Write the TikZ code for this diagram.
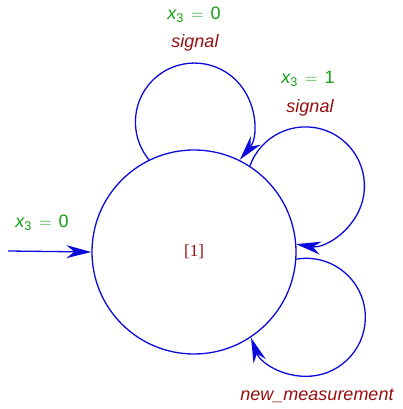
\documentclass[tikz,border=0pt]{standalone}
\usepackage{fontspec}
\setmainfont{Liberation Serif}
\setsansfont{Liberation Sans}
\usetikzlibrary{arrows.meta}
\definecolor{edgeblue}{RGB}{10,10,220}
\definecolor{lblgreen}{RGB}{20,160,20}
\definecolor{lblred}{RGB}{150,15,15}
\newcommand{\xguard}[1]{{\itshape x}\textsubscript{3}\hspace{0.4em}$=$\hspace{0.4em}#1}
\begin{document}
\begin{tikzpicture}[x=1pt,y=1pt,
  edge/.style={draw=edgeblue,line width=1.3pt,-{Stealth[length=25pt,width=13pt,inset=8pt]}},
  state/.style={circle,draw=edgeblue,line width=1.3pt,minimum size=204pt,inner sep=0pt,
    font=\fontsize{17}{19}\selectfont\rmfamily,text=lblred},
  guard/.style={font=\fontsize{18}{20}\selectfont\sffamily,text=lblgreen},
  action/.style={font=\fontsize{18}{20}\selectfont\sffamily\itshape,text=lblred}]
\useasboundingbox (0,0) rectangle (402,409);
\node[state] (s) at (194,157) {[1]};
\coordinate (init) at (8,158);
\draw[edge] (init) -- (s.west);
\node[guard] (g0) at (42,186) {\xguard{0}};
% loop 1 (top)
\draw[edge] (s.116) arc[start angle=219.7,end angle=-39.7,radius=59];
\node[guard] (g1) at (194,394) {\xguard{0}};
\node[action] (a1) at (195,366) {signal};
% loop 2 (upper right)
\draw[edge] (s.57) arc[start angle=160.2,end angle=-99.2,radius=59];
\node[guard] (g2) at (308,330) {\xguard{1}};
\node[action] (a2) at (310,301) {signal};
% loop 3 (lower right)
\draw[edge] (s.-4) arc[start angle=99.7,end angle=-159.7,radius=59];
\node[action] (a3) at (317,13) {new\_measurement};
\end{tikzpicture}
\end{document}
